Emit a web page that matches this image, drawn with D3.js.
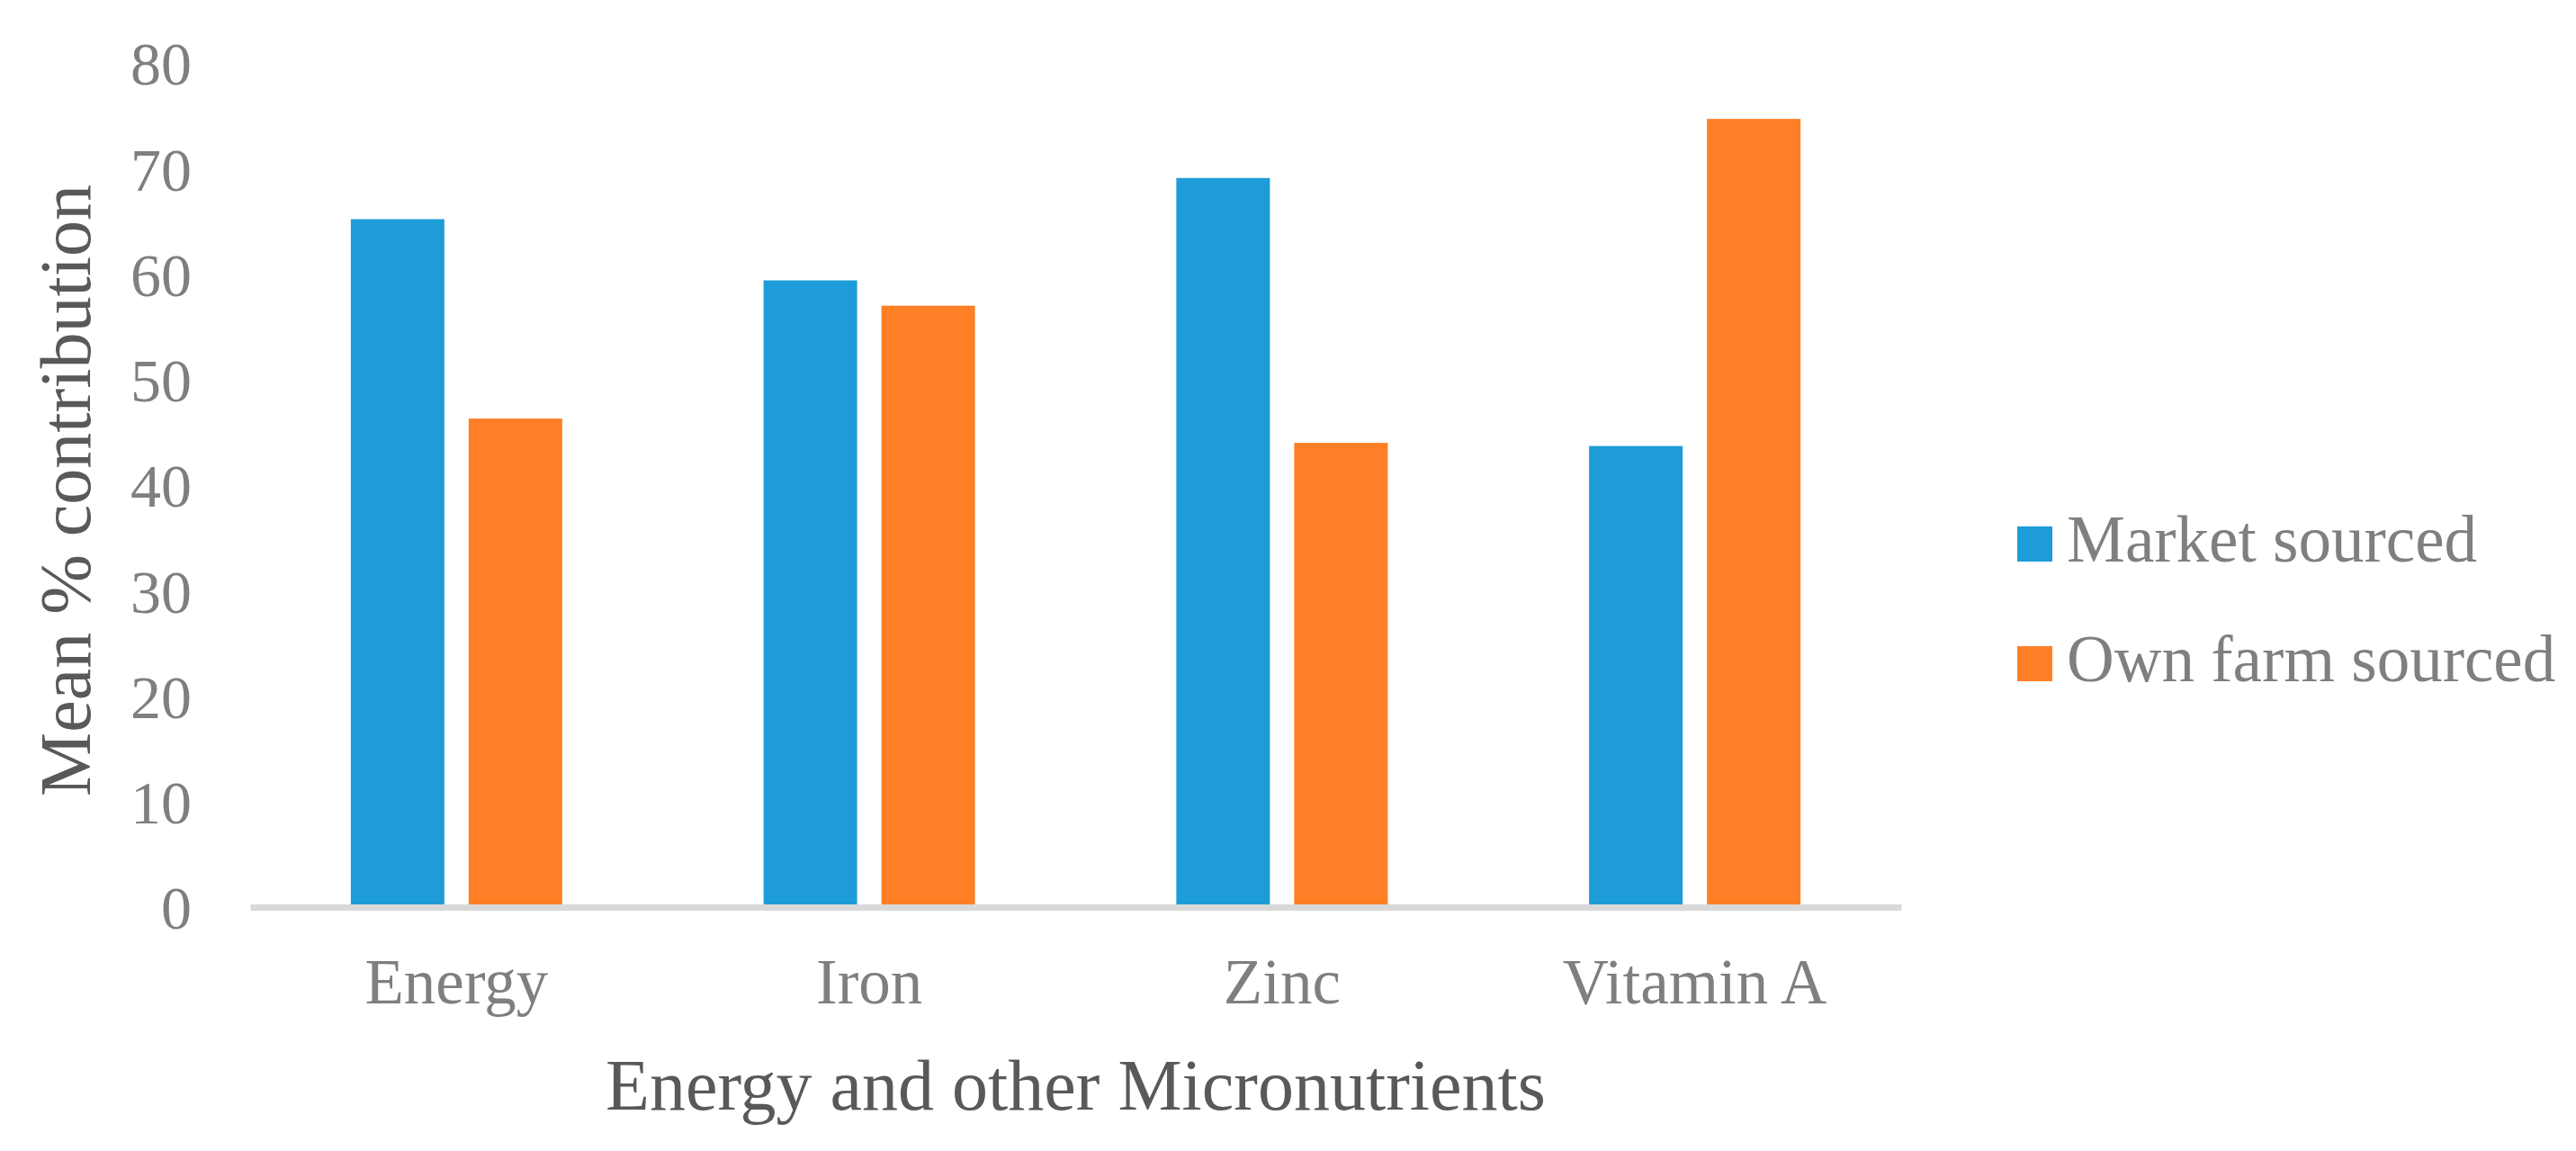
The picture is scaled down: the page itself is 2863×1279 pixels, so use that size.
<!DOCTYPE html>
<html>
<head>
<meta charset="utf-8">
<title>Mean % contribution by source</title>
<script src="https://cdn.jsdelivr.net/npm/d3@7"></script>
<style>
    html, body { margin: 0; padding: 0; background: #ffffff; }
    svg { display: block; }
    text { font-family: "Liberation Serif", "DejaVu Serif", serif; }
</style>
</head>
<body>
<div id="chart"></div>
<script>
// Chart data
const categories = ['Energy', 'Iron', 'Zinc', 'Vitamin A'];
const seriesNames = ['Market sourced', 'Own farm sourced'];
const marketSourced = [65.2, 59.4, 69.1, 43.7];
const ownFarmSourced = [46.3, 57.0, 44.0, 74.7];
const yTicks = [0, 10, 20, 30, 40, 50, 60, 70, 80];

document.addEventListener('DOMContentLoaded', function() {
    const width = 2863;
    const height = 1279;

    // Plot area
    const left = 278;
    const right = 2113;
    const top = 70;
    const bottom = 1008;

    const colors = ['#1e9cd7', '#fe7f26'];

    const svg = d3.select('#chart')
        .append('svg')
        .attr('width', width)
        .attr('height', height);

    // Scales
    const x0 = d3.scaleBand()
        .domain(categories)
        .range([left, right])
        .padding(0);

    const groupWidth = 235;
    const x1 = d3.scaleBand()
        .domain(seriesNames)
        .range([(x0.bandwidth() - groupWidth) / 2, (x0.bandwidth() + groupWidth) / 2])
        .paddingInner(0.206)
        .paddingOuter(0);

    const y = d3.scaleLinear()
        .domain([0, 80])
        .range([bottom, top]);

    const color = d3.scaleOrdinal()
        .domain(seriesNames)
        .range(colors);

    // Build rows for the bars
    const rows = categories.map((c, i) => ({
        category: c,
        values: [
            { key: seriesNames[0], value: marketSourced[i] },
            { key: seriesNames[1], value: ownFarmSourced[i] }
        ]
    }));

    // Bars
    svg.append('g')
        .attr('class', 'bars')
        .selectAll('g')
        .data(rows)
        .enter()
        .append('g')
        .attr('transform', d => `translate(${x0(d.category)},0)`)
        .selectAll('rect')
        .data(d => d.values)
        .enter()
        .append('rect')
        .attr('x', d => x1(d.key))
        .attr('y', d => y(d.value))
        .attr('width', x1.bandwidth())
        .attr('height', d => y(0) - y(d.value))
        .attr('fill', d => color(d.key));

    // Y axis (labels only)
    const yAxis = svg.append('g')
        .attr('transform', `translate(${left},0)`)
        .call(d3.axisLeft(y).tickValues(yTicks).tickSize(0).tickPadding(65));
    yAxis.select('.domain').remove();
    yAxis.selectAll('text')
        .attr('dy', '0.35em')
        .style('font-family', '"Liberation Serif", serif')
        .style('font-size', '68px')
        .attr('fill', '#7f7f7f');

    // X axis with light grey baseline
    const xAxis = svg.append('g')
        .attr('transform', `translate(0,${bottom})`)
        .call(d3.axisBottom(x0).tickSize(0).tickSizeOuter(0).tickPadding(57));
    xAxis.select('.domain')
        .attr('stroke', '#d9d9d9')
        .attr('stroke-width', 7);
    xAxis.selectAll('text')
        .style('font-family', '"Liberation Serif", serif')
        .style('font-size', '71px')
        .attr('fill', '#7f7f7f');

    // Axis titles
    svg.append('text')
        .attr('x', (left + right) / 2)
        .attr('y', 1233)
        .attr('text-anchor', 'middle')
        .style('font-size', '80px')
        .attr('fill', '#595959')
        .text('Energy and other Micronutrients');

    svg.append('text')
        .attr('transform', `translate(100,${(top + bottom) / 2 + 6}) rotate(-90)`)
        .attr('text-anchor', 'middle')
        .style('font-size', '80px')
        .attr('fill', '#595959')
        .text('Mean % contribution');

    // Legend
    const legend = svg.append('g')
        .attr('class', 'legend')
        .attr('transform', 'translate(2242,585)');

    const legendItems = legend.selectAll('.legend-item')
        .data(seriesNames)
        .enter()
        .append('g')
        .attr('class', 'legend-item')
        .attr('transform', (d, i) => `translate(0,${i * 133})`);

    legendItems.append('rect')
        .attr('width', 39)
        .attr('height', 39)
        .attr('fill', d => color(d));

    legendItems.append('text')
        .attr('x', 55)
        .attr('y', 39)
        .style('font-size', '73px')
        .attr('fill', '#7f7f7f')
        .text(d => d);
});
</script>
</body>
</html>
